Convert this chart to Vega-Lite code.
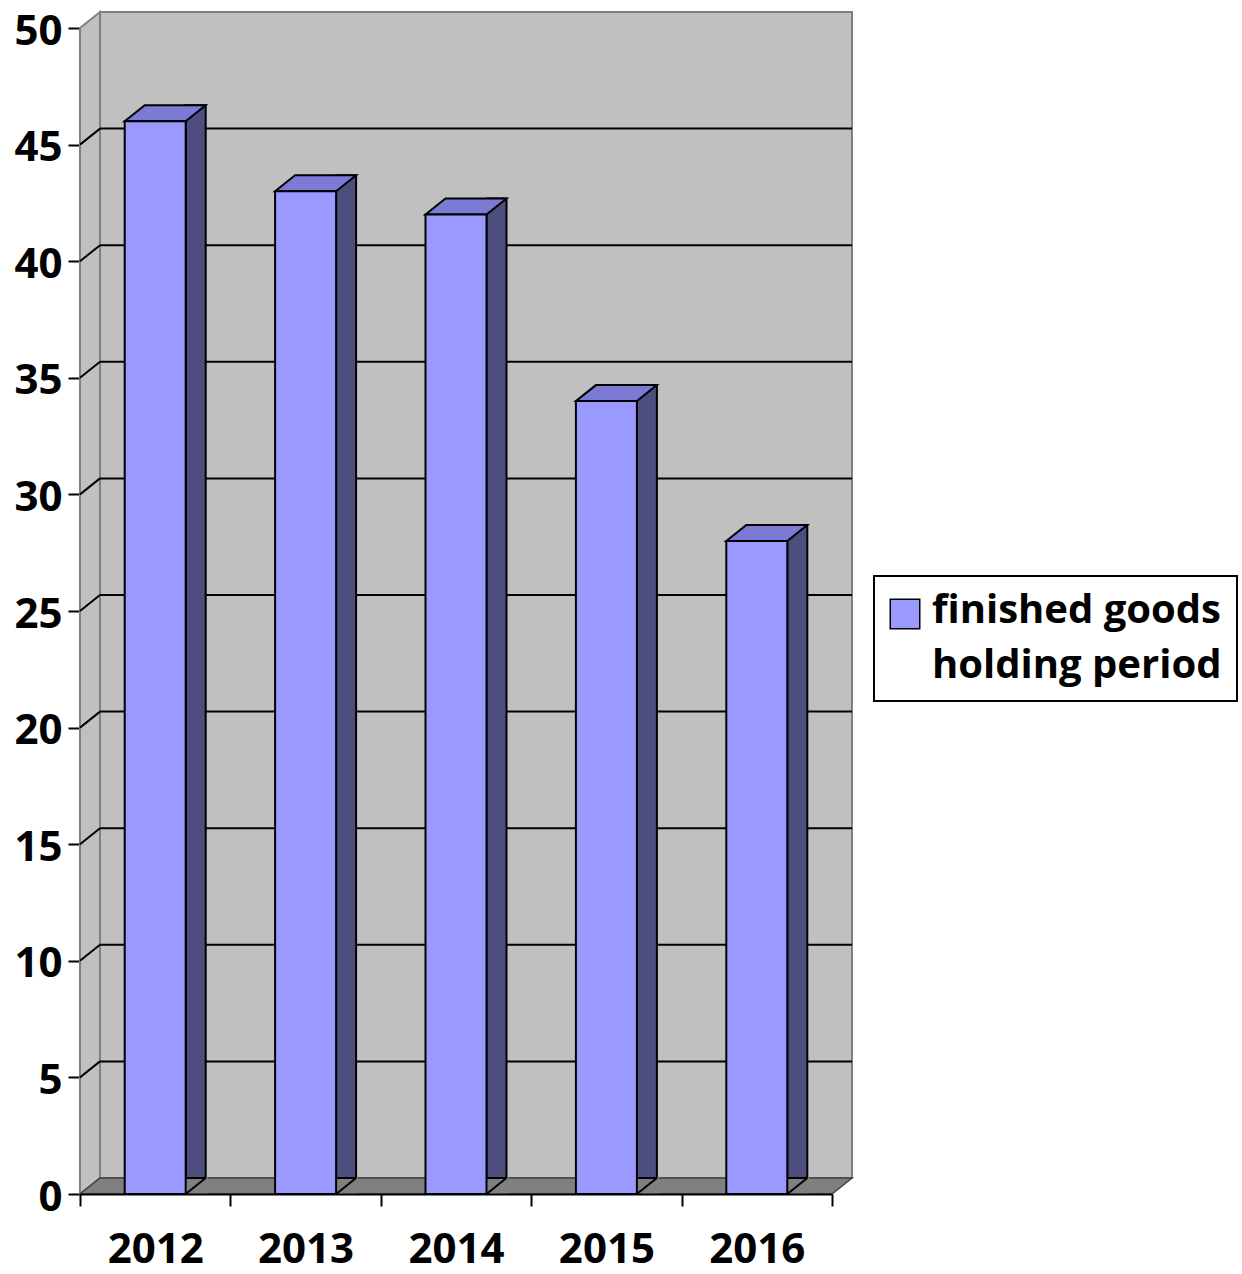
{
  "$schema": "https://vega.github.io/schema/vega-lite/v6.json",
  "width": 752,
  "height": 1166,
  "autosize": {"type": "none"},
  "padding": {"left": 80, "top": 28, "right": 410, "bottom": 80},
  "background": "white",
  "config": {
    "view": {"stroke": null},
    "font": "Open Sans",
    "axisY": {"grid": false, "tickCount": 10, "tickSize": 12, "tickWidth": 2, "tickColor": "black", "domainColor": "black", "domainWidth": 2, "labelFont": "Open Sans", "labelFontSize": 42, "labelFontWeight": "bold", "labelColor": "black", "labelPadding": 6, "labelOffset": 3, "zindex": 2}
  },
  "datasets": {
    "bars": [
      {"year": "2012", "value": 46, "series": "finished goods holding period"},
      {"year": "2013", "value": 43, "series": "finished goods holding period"},
      {"year": "2014", "value": 42, "series": "finished goods holding period"},
      {"year": "2015", "value": 34, "series": "finished goods holding period"},
      {"year": "2016", "value": 28, "series": "finished goods holding period"}
    ],
    "grid": [
      {"level": 5}, {"level": 10}, {"level": 15}, {"level": 20}, {"level": 25},
      {"level": 30}, {"level": 35}, {"level": 40}, {"level": 45}
    ],
    "one": [{"wall": "frame"}]
  },
  "layer": [
    {
      "data": {"name": "one"},
      "mark": {"type": "rect", "fill": "#C0C0C0", "stroke": "#808080", "strokeWidth": 2, "xOffset": 20, "x2Offset": 20, "yOffset": -16, "y2Offset": -16},
      "encoding": {
        "x": {"datum": 0, "type": "quantitative", "scale": {"domain": [0, 5], "nice": false, "zero": false}, "axis": null},
        "x2": {"datum": 5},
        "y": {"datum": 0, "type": "quantitative", "scale": {"domain": [0, 50], "nice": false}, "title": null},
        "y2": {"datum": 50}
      }
    },
    {
      "data": {"name": "one"},
      "mark": {"type": "point", "shape": "M0,0 L0,-1166 L20,-1182 L20,-16 Z", "size": 4, "filled": true, "fill": "#C0C0C0", "stroke": "#808080", "strokeWidth": 2, "opacity": 1},
      "encoding": {
        "x": {"datum": 0, "type": "quantitative", "scale": {"domain": [0, 5], "nice": false, "zero": false}, "axis": null},
        "y": {"datum": 0, "type": "quantitative", "title": null}
      }
    },
    {
      "data": {"name": "one"},
      "mark": {"type": "point", "shape": "M0,0 L752,0 L772,-16 L20,-16 Z", "size": 4, "filled": true, "fill": "#808080", "stroke": "#404040", "strokeWidth": 1.5, "opacity": 1},
      "encoding": {
        "x": {"datum": 0, "type": "quantitative", "scale": {"domain": [0, 5], "nice": false, "zero": false}, "axis": null},
        "y": {"datum": 0, "type": "quantitative", "title": null}
      }
    },
    {
      "data": {"name": "grid"},
      "mark": {"type": "rule", "color": "black", "strokeWidth": 2, "xOffset": 20, "x2Offset": 20, "yOffset": -16},
      "encoding": {
        "x": {"datum": 0, "type": "quantitative", "scale": {"domain": [0, 5], "nice": false, "zero": false}, "axis": null},
        "x2": {"datum": 5},
        "y": {"field": "level", "type": "quantitative", "title": null}
      }
    },
    {
      "data": {"name": "grid"},
      "mark": {"type": "rule", "color": "black", "strokeWidth": 2, "x2Offset": 20, "y2Offset": -16},
      "encoding": {
        "x": {"datum": 0, "type": "quantitative", "scale": {"domain": [0, 5], "nice": false, "zero": false}, "axis": null},
        "x2": {"datum": 0},
        "y": {"field": "level", "type": "quantitative", "title": null},
        "y2": {"field": "level"}
      }
    },
    {
      "data": {"name": "bars"},
      "mark": {"type": "bar", "width": 20, "xOffset": 40.5, "yOffset": -16, "fill": "#4D4D80", "stroke": "black", "strokeWidth": 2, "opacity": 1},
      "encoding": {
        "x": {"field": "year", "type": "nominal", "scale": {"paddingInner": 0, "paddingOuter": 0}, "axis": null},
        "y": {"field": "value", "type": "quantitative", "title": null}
      }
    },
    {
      "data": {"name": "bars"},
      "mark": {"type": "point", "shape": "M0,0 L22,0 L22,-17.6 Z", "size": 4, "filled": true, "fill": "#808080", "strokeWidth": 0, "opacity": 1, "xOffset": 30.5},
      "encoding": {
        "x": {"field": "year", "type": "nominal", "scale": {"paddingInner": 0, "paddingOuter": 0}, "axis": null},
        "y": {"datum": 0, "type": "quantitative", "title": null}
      }
    },
    {
      "data": {"name": "bars"},
      "mark": {"type": "point", "shape": "M0,0 L20,-16", "size": 4, "filled": false, "stroke": "black", "strokeWidth": 2, "opacity": 1, "xOffset": 30.5},
      "encoding": {
        "x": {"field": "year", "type": "nominal", "scale": {"paddingInner": 0, "paddingOuter": 0}, "axis": null},
        "y": {"datum": 0, "type": "quantitative", "title": null}
      }
    },
    {
      "data": {"name": "bars"},
      "mark": {"type": "point", "shape": "M0,0 L61,0 L81,-16 L20,-16 Z", "size": 4, "filled": true, "fill": "#7B7BD6", "stroke": "black", "strokeWidth": 2, "opacity": 1, "xOffset": -30.5},
      "encoding": {
        "x": {"field": "year", "type": "nominal", "scale": {"paddingInner": 0, "paddingOuter": 0}, "axis": null},
        "y": {"field": "value", "type": "quantitative", "title": null}
      }
    },
    {
      "data": {"name": "bars"},
      "mark": {"type": "bar", "width": 61, "stroke": "black", "strokeWidth": 2, "opacity": 1},
      "encoding": {
        "x": {
          "field": "year", "type": "nominal",
          "scale": {"paddingInner": 0, "paddingOuter": 0},
          "axis": {"title": null, "tickBand": "extent", "tickSize": 12, "tickWidth": 2, "tickColor": "black", "domainColor": "black", "domainWidth": 2, "labelAngle": 0, "labelFont": "Open Sans", "labelFontSize": 42, "labelFontWeight": "bold", "labelColor": "black", "labelPadding": 23, "zindex": 2}
        },
        "y": {"field": "value", "type": "quantitative", "title": null},
        "color": {
          "field": "series", "type": "nominal",
          "scale": {"range": ["#9999FF"]},
          "legend": {
            "orient": "none", "legendX": 794, "legendY": 548, "title": null,
            "symbolType": "square", "symbolSize": 870, "symbolStrokeColor": "black", "symbolStrokeWidth": 1.5, "symbolOpacity": 1, "symbolOffset": -4,
            "labelFont": "Open Sans", "labelFontSize": 40, "labelFontWeight": "bold", "labelColor": "black", "labelLimit": 600, "labelOffset": 7,
            "labelExpr": "['finished goods', 'holding period']",
            "padding": 15, "fillColor": "white", "strokeColor": "black",
            "encode": {"legend": {"update": {"strokeWidth": {"value": 2}}}, "labels": {"update": {"lineHeight": {"value": 55}}}, "symbols": {"update": {"y": {"value": 23}}}}
          }
        }
      }
    }
  ],
  "resolve": {"scale": {"x": "independent"}}
}
